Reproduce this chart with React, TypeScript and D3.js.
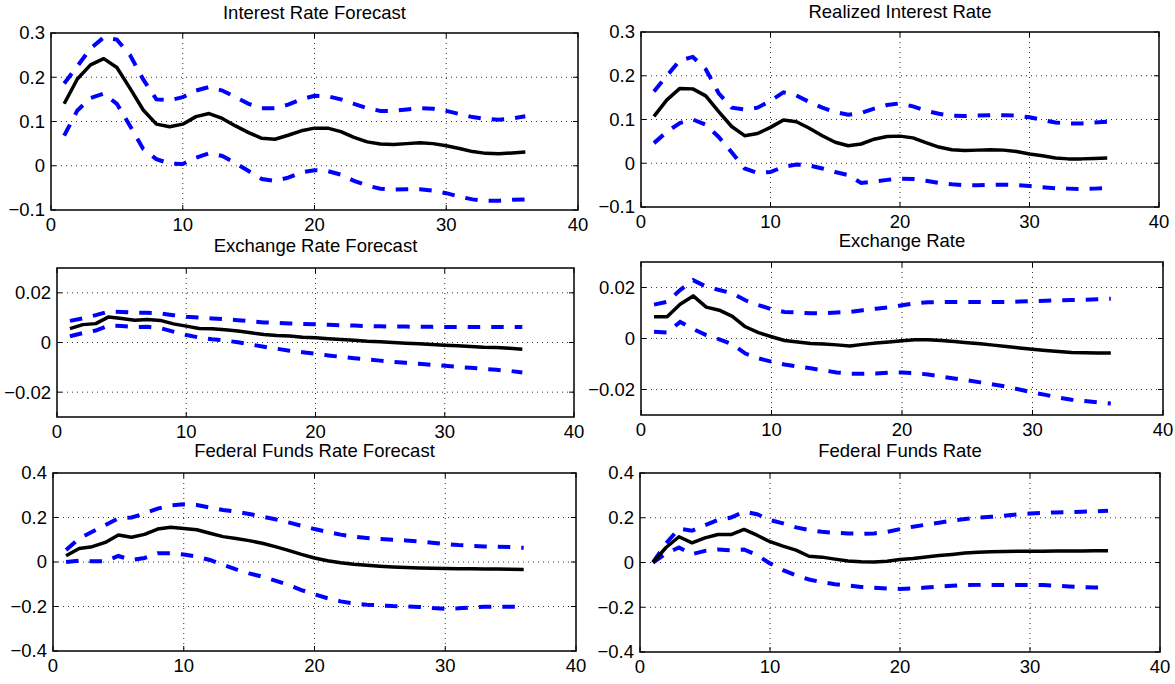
import React, { useEffect, useRef } from "react";
import * as d3 from "d3";

// horizon (months after the shock)
const horizons = [1, 2, 3, 4, 5, 6, 7, 8, 9, 10, 11, 12, 13, 14, 15, 16, 17, 18,
  19, 20, 21, 22, 23, 24, 25, 26, 27, 28, 29, 30, 31, 32, 33, 34, 35, 36];

const titles = [
  "Interest Rate Forecast",
  "Realized Interest Rate",
  "Exchange Rate Forecast",
  "Exchange Rate",
  "Federal Funds Rate Forecast",
  "Federal Funds Rate",
];

const xTicks = [0, 10, 20, 30, 40];
const yTicksRate = [-0.1, 0, 0.1, 0.2, 0.3];
const yTicksFx = [-0.02, 0, 0.02];
const yTicksFf = [-0.4, -0.2, 0, 0.2, 0.4];

// Interest Rate Forecast
const irfMid = [0.140, 0.196, 0.228, 0.242, 0.222, 0.175, 0.126, 0.094, 0.088, 0.094, 0.111, 0.118,
  0.107, 0.090, 0.075, 0.062, 0.060, 0.069, 0.079, 0.085, 0.085, 0.077, 0.064, 0.054,
  0.049, 0.048, 0.050, 0.052, 0.050, 0.045, 0.039, 0.032, 0.028, 0.027, 0.029, 0.031];
const irfHi = [0.186, 0.225, 0.265, 0.290, 0.285, 0.250, 0.195, 0.150, 0.148, 0.155, 0.170, 0.178,
  0.170, 0.155, 0.140, 0.130, 0.130, 0.138, 0.150, 0.158, 0.157, 0.150, 0.140, 0.130,
  0.124, 0.124, 0.127, 0.130, 0.129, 0.124, 0.117, 0.110, 0.106, 0.104, 0.107, 0.112];
const irfLo = [0.068, 0.125, 0.153, 0.163, 0.140, 0.090, 0.038, 0.015, 0.005, 0.004, 0.018, 0.028,
  0.022, 0.006, -0.012, -0.030, -0.034, -0.027, -0.015, -0.010, -0.012, -0.020, -0.034, -0.045,
  -0.052, -0.054, -0.053, -0.053, -0.056, -0.062, -0.070, -0.076, -0.079, -0.079, -0.077, -0.076];

// Realized Interest Rate
const rirMid = [0.107, 0.145, 0.171, 0.170, 0.154, 0.118, 0.084, 0.063, 0.068, 0.082, 0.099, 0.095,
  0.080, 0.063, 0.048, 0.040, 0.044, 0.055, 0.061, 0.062, 0.058, 0.047, 0.037, 0.031,
  0.029, 0.030, 0.031, 0.030, 0.027, 0.021, 0.017, 0.012, 0.010, 0.010, 0.011, 0.012];
const rirHi = [0.164, 0.200, 0.235, 0.243, 0.215, 0.160, 0.127, 0.123, 0.127, 0.143, 0.162, 0.155,
  0.140, 0.127, 0.117, 0.111, 0.115, 0.125, 0.133, 0.137, 0.130, 0.120, 0.113, 0.109,
  0.108, 0.109, 0.110, 0.110, 0.109, 0.105, 0.099, 0.093, 0.091, 0.091, 0.093, 0.095];
const rirLo = [0.046, 0.072, 0.092, 0.100, 0.088, 0.060, 0.025, -0.012, -0.022, -0.020, -0.008, -0.003,
  -0.005, -0.012, -0.020, -0.027, -0.045, -0.042, -0.038, -0.035, -0.036, -0.040, -0.045, -0.048,
  -0.050, -0.050, -0.049, -0.049, -0.050, -0.052, -0.055, -0.057, -0.058, -0.059, -0.058, -0.057];

// Exchange Rate Forecast
const erfMid = [0.0056, 0.0072, 0.0076, 0.0103, 0.0097, 0.0090, 0.0093, 0.0089, 0.0075, 0.0066, 0.0056, 0.0055,
  0.0051, 0.0046, 0.0039, 0.0032, 0.0028, 0.0026, 0.0021, 0.0019, 0.0015, 0.0012, 0.0009, 0.0005,
  0.0003, 0.0000, -0.0003, -0.0005, -0.0008, -0.0011, -0.0013, -0.0016, -0.0019, -0.0020, -0.0023, -0.0027];
const erfHi = [0.0087, 0.0097, 0.0110, 0.0125, 0.0123, 0.0120, 0.0120, 0.0117, 0.0110, 0.0104, 0.0100, 0.0097,
  0.0094, 0.0090, 0.0085, 0.0081, 0.0079, 0.0077, 0.0075, 0.0073, 0.0071, 0.0069, 0.0068, 0.0066,
  0.0065, 0.0064, 0.0064, 0.0063, 0.0063, 0.0062, 0.0062, 0.0062, 0.0062, 0.0062, 0.0062, 0.0062];
const erfLo = [0.0025, 0.0038, 0.0048, 0.0068, 0.0066, 0.0062, 0.0063, 0.0058, 0.0044, 0.0030, 0.0020, 0.0013,
  0.0008, 0.0001, -0.0008, -0.0017, -0.0025, -0.0033, -0.0039, -0.0045, -0.0052, -0.0058, -0.0063, -0.0068,
  -0.0073, -0.0078, -0.0082, -0.0086, -0.0090, -0.0094, -0.0098, -0.0102, -0.0106, -0.0110, -0.0114, -0.0121];

// Exchange Rate
const erMid = [0.0085, 0.0085, 0.0134, 0.0167, 0.0123, 0.0111, 0.0087, 0.0046, 0.0023, 0.0007, -0.0008, -0.0014,
  -0.0020, -0.0022, -0.0025, -0.0029, -0.0023, -0.0018, -0.0014, -0.0009, -0.0005, -0.0005, -0.0008, -0.0012,
  -0.0017, -0.0021, -0.0026, -0.0031, -0.0037, -0.0042, -0.0047, -0.0051, -0.0055, -0.0056, -0.0057, -0.0057];
const erHi = [0.0133, 0.0144, 0.0190, 0.0229, 0.0203, 0.0190, 0.0177, 0.0150, 0.0131, 0.0115, 0.0104, 0.0102,
  0.0099, 0.0099, 0.0102, 0.0104, 0.0111, 0.0117, 0.0122, 0.0130, 0.0138, 0.0142, 0.0143, 0.0143,
  0.0143, 0.0143, 0.0143, 0.0143, 0.0145, 0.0147, 0.0148, 0.0150, 0.0151, 0.0152, 0.0154, 0.0156];
const erLo = [0.0026, 0.0023, 0.0065, 0.0037, 0.0013, -0.0003, -0.0023, -0.0059, -0.0078, -0.0091, -0.0102, -0.0110,
  -0.0117, -0.0125, -0.0133, -0.0138, -0.0138, -0.0137, -0.0134, -0.0133, -0.0136, -0.0141, -0.0149, -0.0157,
  -0.0164, -0.0172, -0.0180, -0.0189, -0.0200, -0.0212, -0.0221, -0.0232, -0.0240, -0.0245, -0.0250, -0.0255];

// Federal Funds Rate Forecast
const ffrfMid = [0.028, 0.061, 0.069, 0.088, 0.121, 0.111, 0.124, 0.148, 0.156, 0.151, 0.145, 0.129,
  0.114, 0.106, 0.096, 0.084, 0.069, 0.052, 0.034, 0.018, 0.006, -0.003, -0.010, -0.015,
  -0.019, -0.022, -0.025, -0.027, -0.028, -0.029, -0.030, -0.030, -0.031, -0.032, -0.033, -0.034];
const ffrfHi = [0.054, 0.106, 0.136, 0.166, 0.196, 0.200, 0.218, 0.240, 0.254, 0.259, 0.256, 0.245,
  0.234, 0.226, 0.216, 0.204, 0.192, 0.178, 0.163, 0.148, 0.135, 0.123, 0.114, 0.108,
  0.103, 0.100, 0.097, 0.093, 0.087, 0.081, 0.076, 0.073, 0.070, 0.069, 0.067, 0.064];
const ffrfLo = [0.000, 0.006, 0.003, 0.003, 0.027, 0.009, 0.018, 0.039, 0.039, 0.034, 0.024, 0.009,
  -0.013, -0.033, -0.051, -0.066, -0.084, -0.103, -0.126, -0.145, -0.163, -0.177, -0.186, -0.192,
  -0.195, -0.198, -0.199, -0.202, -0.207, -0.210, -0.208, -0.204, -0.201, -0.201, -0.201, -0.202];

// Federal Funds Rate
const ffrMid = [0.000, 0.067, 0.115, 0.088, 0.110, 0.125, 0.125, 0.148, 0.122, 0.093, 0.073, 0.055,
  0.028, 0.024, 0.015, 0.007, 0.003, 0.002, 0.006, 0.013, 0.018, 0.025, 0.031, 0.036,
  0.042, 0.046, 0.048, 0.049, 0.050, 0.050, 0.050, 0.051, 0.051, 0.051, 0.052, 0.052];
const ffrHi = [0.000, 0.085, 0.152, 0.142, 0.167, 0.190, 0.201, 0.227, 0.216, 0.190, 0.175, 0.157,
  0.145, 0.137, 0.133, 0.130, 0.128, 0.130, 0.137, 0.149, 0.160, 0.169, 0.178, 0.187,
  0.194, 0.200, 0.204, 0.209, 0.215, 0.219, 0.222, 0.224, 0.225, 0.227, 0.228, 0.231];
const ffrLo = [0.000, 0.040, 0.067, 0.037, 0.052, 0.058, 0.055, 0.058, 0.033, -0.004, -0.034, -0.057,
  -0.076, -0.088, -0.097, -0.103, -0.109, -0.113, -0.116, -0.118, -0.116, -0.112, -0.107, -0.104,
  -0.101, -0.100, -0.100, -0.100, -0.100, -0.100, -0.101, -0.104, -0.107, -0.110, -0.112, -0.112];

const W = 1175;
const H = 684;

const fmt = (v: number) => {
  if (v === 0) return "0";
  const s = String(Math.abs(v));
  return (v < 0 ? "\u2212" : "") + s;
};

const App = () => {
  const ref = useRef<SVGSVGElement | null>(null);

  useEffect(() => {
    const svg = d3.select(ref.current);
    svg.selectAll("*").remove();

    // each panel: box in pixels [left, right, top, bottom], y domain and ticks
    const panels = [
      { title: titles[0], mid: irfMid, hi: irfHi, lo: irfLo, box: [51, 578, 33, 210], dom: [-0.1, 0.3], ticks: yTicksRate, tOff: 14 },
      { title: titles[1], mid: rirMid, hi: rirHi, lo: rirLo, box: [641, 1159, 32, 207], dom: [-0.1, 0.3], ticks: yTicksRate, tOff: 14 },
      { title: titles[2], mid: erfMid, hi: erfHi, lo: erfLo, box: [57, 574, 268, 417], dom: [-0.03, 0.03], ticks: yTicksFx, tOff: 16 },
      { title: titles[3], mid: erMid, hi: erHi, lo: erLo, box: [641, 1163, 262, 415], dom: [-0.03, 0.03], ticks: yTicksFx, tOff: 15 },
      { title: titles[4], mid: ffrfMid, hi: ffrfHi, lo: ffrfLo, box: [53, 576, 473, 651], dom: [-0.4, 0.4], ticks: yTicksFf, tOff: 16 },
      { title: titles[5], mid: ffrMid, hi: ffrHi, lo: ffrLo, box: [640, 1160, 473, 652], dom: [-0.4, 0.4], ticks: yTicksFf, tOff: 16 },
    ];

    panels.forEach((p) => {
      const [x0, x1, y0, y1] = p.box;
      const x = d3.scaleLinear().domain([0, 40]).range([x0, x1]);
      const y = d3.scaleLinear().domain(p.dom).range([y1, y0]);
      const g = svg.append("g");

      // dotted grid
      const innerX = xTicks.filter((t) => t > 0 && t < 40);
      const innerY = p.ticks.filter((t) => t > p.dom[0] && t < p.dom[1]);
      g.selectAll(".gx")
        .data(innerX)
        .enter()
        .append("line")
        .attr("x1", (d) => x(d))
        .attr("x2", (d) => x(d))
        .attr("y1", y0)
        .attr("y2", y1)
        .attr("stroke", "#333")
        .attr("stroke-width", 1)
        .attr("stroke-dasharray", "1,4");
      g.selectAll(".gy")
        .data(innerY)
        .enter()
        .append("line")
        .attr("x1", x0)
        .attr("x2", x1)
        .attr("y1", (d) => y(d))
        .attr("y2", (d) => y(d))
        .attr("stroke", "#333")
        .attr("stroke-width", 1)
        .attr("stroke-dasharray", "1,4");

      // inward ticks on all four sides
      const tl = 5;
      xTicks.forEach((t) => {
        g.append("line").attr("x1", x(t)).attr("x2", x(t)).attr("y1", y1).attr("y2", y1 - tl).attr("stroke", "#000");
        g.append("line").attr("x1", x(t)).attr("x2", x(t)).attr("y1", y0).attr("y2", y0 + tl).attr("stroke", "#000");
      });
      p.ticks.forEach((t) => {
        g.append("line").attr("x1", x0).attr("x2", x0 + tl).attr("y1", y(t)).attr("y2", y(t)).attr("stroke", "#000");
        g.append("line").attr("x1", x1).attr("x2", x1 - tl).attr("y1", y(t)).attr("y2", y(t)).attr("stroke", "#000");
      });

      const line = d3
        .line<number>()
        .x((d, i) => x(horizons[i]))
        .y((d) => y(d));

      [p.hi, p.lo].forEach((band) => {
        g.append("path")
          .attr("d", line(band))
          .attr("fill", "none")
          .attr("stroke", "#0000ff")
          .attr("stroke-width", 4)
          .attr("stroke-dasharray", "12.5,11");
      });
      g.append("path")
        .attr("d", line(p.mid))
        .attr("fill", "none")
        .attr("stroke", "#000")
        .attr("stroke-width", 3.5)
        .attr("stroke-linejoin", "round");

      // frame
      g.append("rect")
        .attr("x", x0)
        .attr("y", y0)
        .attr("width", x1 - x0)
        .attr("height", y1 - y0)
        .attr("fill", "none")
        .attr("stroke", "#000")
        .attr("stroke-width", 1.5);

      // tick labels
      g.selectAll(".xl")
        .data(xTicks)
        .enter()
        .append("text")
        .attr("x", (d) => x(d))
        .attr("y", y1 + 21)
        .attr("text-anchor", "middle")
        .text((d) => String(d));
      g.selectAll(".yl")
        .data(p.ticks)
        .enter()
        .append("text")
        .attr("x", x0 - 6)
        .attr("y", (d) => y(d))
        .attr("dy", "0.35em")
        .attr("text-anchor", "end")
        .text((d) => fmt(d));

      g.append("text")
        .attr("x", (x0 + x1) / 2)
        .attr("y", y0 - p.tOff)
        .attr("text-anchor", "middle")
        .text(p.title);
    });
  }, []);

  return (
    <svg
      ref={ref}
      width={W}
      height={H}
      style={{ position: "absolute", left: 0, top: 0, background: "#fff" }}
      fontFamily="'Liberation Sans', Arial, Helvetica, sans-serif"
      fontSize={18.5}
      fill="#000"
    />
  );
};

export default App;
